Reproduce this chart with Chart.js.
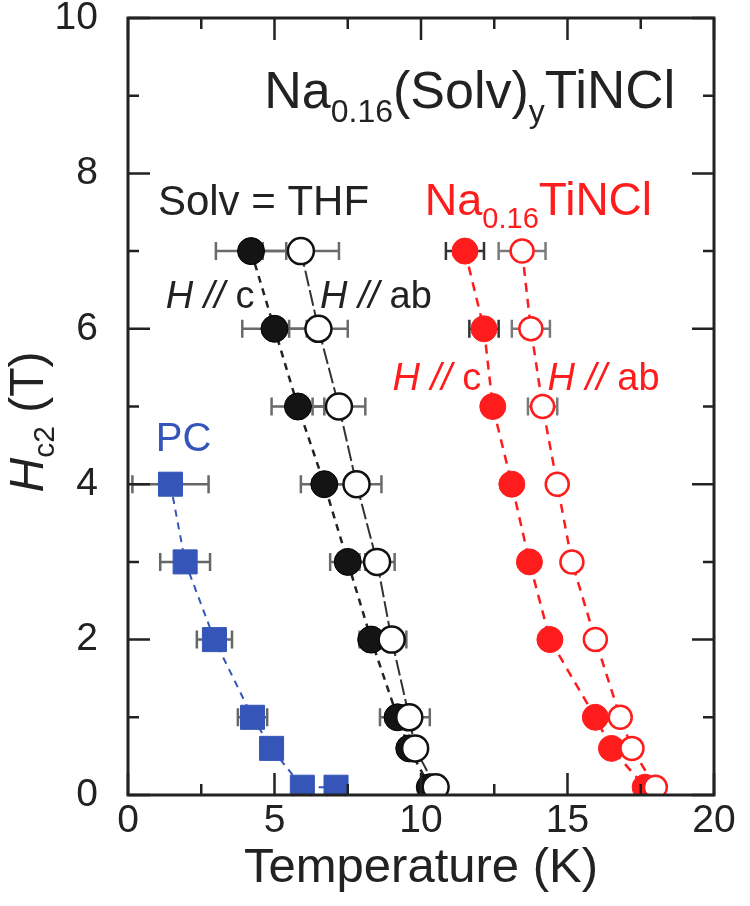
<!DOCTYPE html>
<html>
<head>
<meta charset="utf-8">
<script src="https://cdn.jsdelivr.net/npm/chart.js@4"></script>
<style>
  html, body { margin: 0; padding: 0; background: #fff; }
  #wrap { width: 750px; height: 906px; position: relative; }
</style>
</head>
<body>
<div id="wrap"><canvas id="hc2Chart"></canvas></div>
<script>
// Field values (T) at which Tc was measured
var fieldSteps = [7, 6, 5, 4, 3, 2, 1, 0.6, 0.1];
var pcFields = [4, 3, 2, 1, 0.6, 0.1, 0.1];

// Temperatures (K)
var thfParallelC  = [4.2, 5.0, 5.8, 6.7, 7.5, 8.3, 9.2, 9.6, 10.3];
var thfParallelAb = [5.9, 6.5, 7.2, 7.8, 8.5, 9.0, 9.6, 9.8, 10.5];
var naParallelC   = [11.5, 12.15, 12.45, 13.1, 13.7, 14.4, 15.95, 16.5, 17.65];
var naParallelAb  = [13.45, 13.75, 14.15, 14.65, 15.15, 15.95, 16.8, 17.2, 18.0];
var pcTemps       = [1.45, 1.95, 2.95, 4.25, 4.9, 5.95, 7.1];

// Horizontal error bars, half width in K (0 = none)
var thfParallelCErr  = [1.2, 1.1, 0.9, 0.8, 0.6, 0.4, 0.6, 0, 0];
var thfParallelAbErr = [1.3, 1.0, 0.9, 0.85, 0.6, 0.5, 0.7, 0, 0];
var naParallelCErr   = [0.65, 0.5, 0, 0, 0, 0, 0, 0, 0];
var naParallelAbErr  = [0.8, 0.65, 0.5, 0, 0, 0, 0, 0, 0];
var pcErr            = [1.3, 0.85, 0.6, 0.5, 0, 0.3, 0.3];

// Tick labels
var xTickLabels = [0, 5, 10, 15, 20];
var yTickLabels = [0, 2, 4, 6, 8, 10];

var FONT = '"Liberation Sans", Arial, Helvetica, sans-serif';
var RED = '#ff1c1c';
var BLUE = '#3556b8';

function points(xs, ys) {
    return xs.map(function(x, i) { return { x: x, y: ys[i] }; });
}

// error bars go under the markers
var errorBarPlugin = {
    id: 'errorBars',
    beforeDatasetsDraw: function(chart) {
        var ctx = chart.ctx, xs = chart.scales.x, ys = chart.scales.y;
        chart.data.datasets.forEach(function(ds) {
            if (!ds.errors) return;
            ds.data.forEach(function(p, i) {
                var e = ds.errors[i];
                if (!e) return;
                var x0 = xs.getPixelForValue(p.x - e);
                var x1 = xs.getPixelForValue(p.x + e);
                var y = ys.getPixelForValue(p.y);
                ctx.save();
                ctx.strokeStyle = ds.errColor;
                ctx.lineWidth = 2.5;
                ctx.beginPath();
                ctx.moveTo(x0, y); ctx.lineTo(x1, y);
                ctx.moveTo(x0, y - 9); ctx.lineTo(x0, y + 9);
                ctx.moveTo(x1, y - 9); ctx.lineTo(x1, y + 9);
                ctx.stroke();
                ctx.restore();
            });
        });
    }
};

// box frame with inward ticks on all four sides
var framePlugin = {
    id: 'frame',
    afterDatasetsDraw: function(chart) {
        var ctx = chart.ctx, a = chart.chartArea, xs = chart.scales.x, ys = chart.scales.y;
        ctx.save();
        ctx.strokeStyle = '#222';
        ctx.lineWidth = 3;
        ctx.strokeRect(a.left, a.top, a.right - a.left, a.bottom - a.top);
        ctx.lineWidth = 2.5;
        ctx.beginPath();
        for (var v = 0; v <= 20; v += 2.5) {
            var px = xs.getPixelForValue(v);
            var len = (v % 5 === 0) ? 22 : 11;
            ctx.moveTo(px, a.bottom); ctx.lineTo(px, a.bottom - len);
            ctx.moveTo(px, a.top); ctx.lineTo(px, a.top + len);
        }
        for (var h = 0; h <= 10; h += 1) {
            var py = ys.getPixelForValue(h);
            var l2 = (h % 2 === 0) ? 22 : 11;
            ctx.moveTo(a.left, py); ctx.lineTo(a.left + l2, py);
            ctx.moveTo(a.right, py); ctx.lineTo(a.right - l2, py);
        }
        ctx.stroke();
        ctx.restore();
    }
};

function drawRuns(ctx, x, y, runs, color) {
    ctx.fillStyle = color;
    ctx.textAlign = 'left';
    ctx.textBaseline = 'alphabetic';
    runs.forEach(function(r) {
        ctx.font = (r.italic ? 'italic ' : '') + r.size + 'px ' + FONT;
        ctx.fillText(r.t, x, y + (r.dy || 0));
        x += ctx.measureText(r.t).width;
    });
}

// labels placed in data units (K, T) at text baseline
var labelPlugin = {
    id: 'labels',
    afterDraw: function(chart) {
        var ctx = chart.ctx, xs = chart.scales.x, ys = chart.scales.y;
        function at(k, t, runs, color) {
            drawRuns(ctx, xs.getPixelForValue(k), ys.getPixelForValue(t), runs, color);
        }
        ctx.save();
        at(4.65, 8.84, [
            { t: 'Na', size: 52 }, { t: '0.16', size: 32, dy: 14 },
            { t: '(Solv)', size: 52 }, { t: 'y', size: 32, dy: 14 },
            { t: 'TiNCl', size: 53 }], '#222');
        at(1.02, 7.46, [{ t: 'Solv = THF', size: 42 }], '#222');
        at(10.13, 7.46, [
            { t: 'Na', size: 45 }, { t: '0.16', size: 29, dy: 13 },
            { t: 'TiNCl', size: 46 }], RED);
        at(1.29, 6.27, [{ t: 'H // ', size: 38, italic: true }, { t: 'c', size: 38 }], '#222');
        at(6.55, 6.27, [{ t: 'H // ', size: 38, italic: true }, { t: 'ab', size: 38 }], '#222');
        at(9.03, 5.21, [{ t: 'H // ', size: 38, italic: true }, { t: 'c', size: 38 }], RED);
        at(14.32, 5.21, [{ t: 'H // ', size: 38, italic: true }, { t: 'ab', size: 38 }], RED);
        at(0.95, 4.43, [{ t: 'PC', size: 40 }], BLUE);

        // y axis title, rotated
        var runs = [{ t: 'H', size: 48, italic: true }, { t: 'c2', size: 30, dy: 11 }, { t: ' (T)', size: 48 }];
        var total = 0;
        runs.forEach(function(r) {
            ctx.font = (r.italic ? 'italic ' : '') + r.size + 'px ' + FONT;
            total += ctx.measureText(r.t).width;
        });
        ctx.translate(43, ys.getPixelForValue(4.8));
        ctx.rotate(-Math.PI / 2);
        drawRuns(ctx, -total / 2, 0, runs, '#222');
        ctx.restore();
    }
};

var ctx = document.getElementById('hc2Chart').getContext('2d');
var hc2Chart = new Chart(ctx, {
    type: 'scatter',
    data: {
        datasets: [
            {
                label: 'THF H // ab',
                data: points(thfParallelAb, fieldSteps),
                errors: thfParallelAbErr, errColor: '#6a6a6a',
                showLine: true, borderColor: '#333', borderWidth: 2, borderDash: [16, 4],
                pointRadius: 13, pointBackgroundColor: '#fff', pointBorderColor: '#111', pointBorderWidth: 2.5,
                clip: 0
            },
            {
                label: 'THF H // c',
                data: points(thfParallelC, fieldSteps),
                errors: thfParallelCErr, errColor: '#6a6a6a',
                showLine: true, borderColor: '#222', borderWidth: 2.5, borderDash: [7, 6],
                pointRadius: 13.5, pointBackgroundColor: '#141414', pointBorderColor: '#000', pointBorderWidth: 1,
                clip: 0
            },
            {
                label: 'Na0.16TiNCl H // ab',
                data: points(naParallelAb, fieldSteps),
                errors: naParallelAbErr, errColor: '#7a7a7a',
                showLine: true, borderColor: RED, borderWidth: 2.5, borderDash: [9, 7],
                pointRadius: 11.5, pointBackgroundColor: '#fff', pointBorderColor: RED, pointBorderWidth: 2.5,
                clip: 0
            },
            {
                label: 'Na0.16TiNCl H // c',
                data: points(naParallelC, fieldSteps),
                errors: naParallelCErr, errColor: '#333',
                showLine: true, borderColor: RED, borderWidth: 2.5, borderDash: [9, 7],
                pointRadius: 13, pointBackgroundColor: RED, pointBorderColor: RED, pointBorderWidth: 1,
                clip: 0
            },
            {
                label: 'PC',
                data: points(pcTemps, pcFields),
                errors: pcErr, errColor: '#666',
                showLine: true, borderColor: BLUE, borderWidth: 2, borderDash: [7, 6],
                pointStyle: 'rect', pointRadius: 17, pointBackgroundColor: BLUE, pointBorderColor: BLUE, pointBorderWidth: 1,
                clip: 0
            }
        ]
    },
    options: {
        responsive: true,
        maintainAspectRatio: false,
        animation: false,
        layout: { padding: { top: 18, right: 36, left: 0, bottom: 0 } },
        plugins: {
            legend: { display: false },
            tooltip: { enabled: false }
        },
        scales: {
            x: {
                type: 'linear',
                min: 0,
                max: 20,
                afterBuildTicks: function(s) { s.ticks = xTickLabels.map(function(v) { return { value: v }; }); },
                afterFit: function(s) { s.height = 111; s.paddingLeft = 0; s.paddingRight = 0; },
                grid: { display: false },
                border: { display: false },
                ticks: { color: '#222', padding: -5, font: { family: FONT, size: 39 } },
                title: {
                    display: true, text: 'Temperature (K)', color: '#222',
                    font: { family: FONT, size: 49 }, padding: { top: 0, bottom: 8 }
                }
            },
            y: {
                type: 'linear',
                min: 0,
                max: 10,
                afterBuildTicks: function(s) { s.ticks = yTickLabels.map(function(v) { return { value: v }; }); },
                afterFit: function(s) { s.width = 128; s.paddingTop = 0; s.paddingBottom = 0; },
                grid: { display: false },
                border: { display: false },
                ticks: { color: '#222', padding: 22, font: { family: FONT, size: 39 } }
            }
        }
    },
    plugins: [errorBarPlugin, framePlugin, labelPlugin]
});
</script>
</body>
</html>
